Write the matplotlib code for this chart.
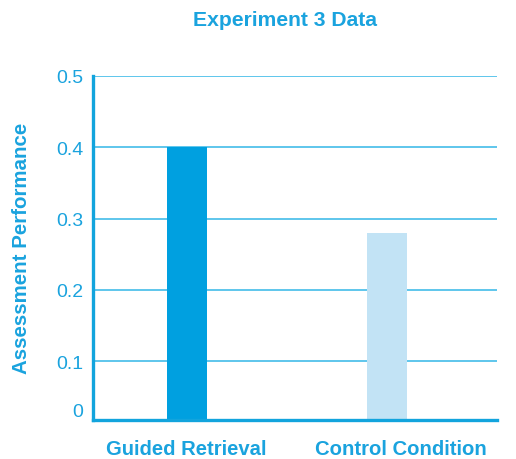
import matplotlib
matplotlib.use("Agg")
import matplotlib.pyplot as plt
from matplotlib.transforms import ScaledTranslation

categories = ["Guided Retrieval", "Control Condition"]
values = [0.40, 0.28]
bar_colors = ["#00a0e0", "#c2e3f5"]
y_ticks = [0.1, 0.2, 0.3, 0.4, 0.5]
y_tick_labels = ["0.1", "0.2", "0.3", "0.4", "0.5"]
label_shift_px = [-1, 14]

text_color = "#1aa3de"
axis_color = "#12a4dd"
grid_color = "#5ec6ec"

plt.rcParams["font.family"] = ["Liberation Sans", "DejaVu Sans"]

fig = plt.figure(figsize=(5.16, 4.6), dpi=100)
ax = fig.add_axes([0.180, 0.085, 0.783, 0.748])

# the baseline sits slightly above zero
y_lo = 0.018
ax.set_ylim(y_lo, 0.5)
ax.set_xlim(-0.47, 1.55)

x = list(range(len(categories)))
ax.bar(x, [v - y_lo for v in values], bottom=y_lo, width=0.2,
       color=bar_colors, zorder=3)

ax.set_yticks([y_lo] + y_ticks)
ax.set_yticklabels(["0"] + y_tick_labels)
ax.get_yticklabels()[0].set_verticalalignment("bottom")
for yv in y_ticks:
    ax.axhline(yv, color=grid_color, lw=1.4, zorder=1)

ax.set_xticks(x)
ax.set_xticklabels(categories, fontsize=14.6, weight="bold")
ax.tick_params(axis="both", length=0, colors=text_color)
ax.tick_params(axis="x", pad=14)
ax.tick_params(axis="y", pad=7, labelsize=14)
for lbl, dx in zip(ax.get_xticklabels(), label_shift_px):
    lbl.set_transform(lbl.get_transform()
                      + ScaledTranslation(dx / 100, 0, fig.dpi_scale_trans))

for s in ["top", "right"]:
    ax.spines[s].set_visible(False)
for s in ["left", "bottom"]:
    ax.spines[s].set_color(axis_color)
    ax.spines[s].set_linewidth(2.4)
    ax.spines[s].set_zorder(4)

ax.set_ylabel("Assessment Performance", fontsize=14.8, weight="bold",
              color=text_color, labelpad=18)
fig.text(0.553, 0.955, "Experiment 3 Data", ha="center", va="center",
         fontsize=15.2, weight="bold", color=text_color)

fig.savefig("out.png", dpi=100)
